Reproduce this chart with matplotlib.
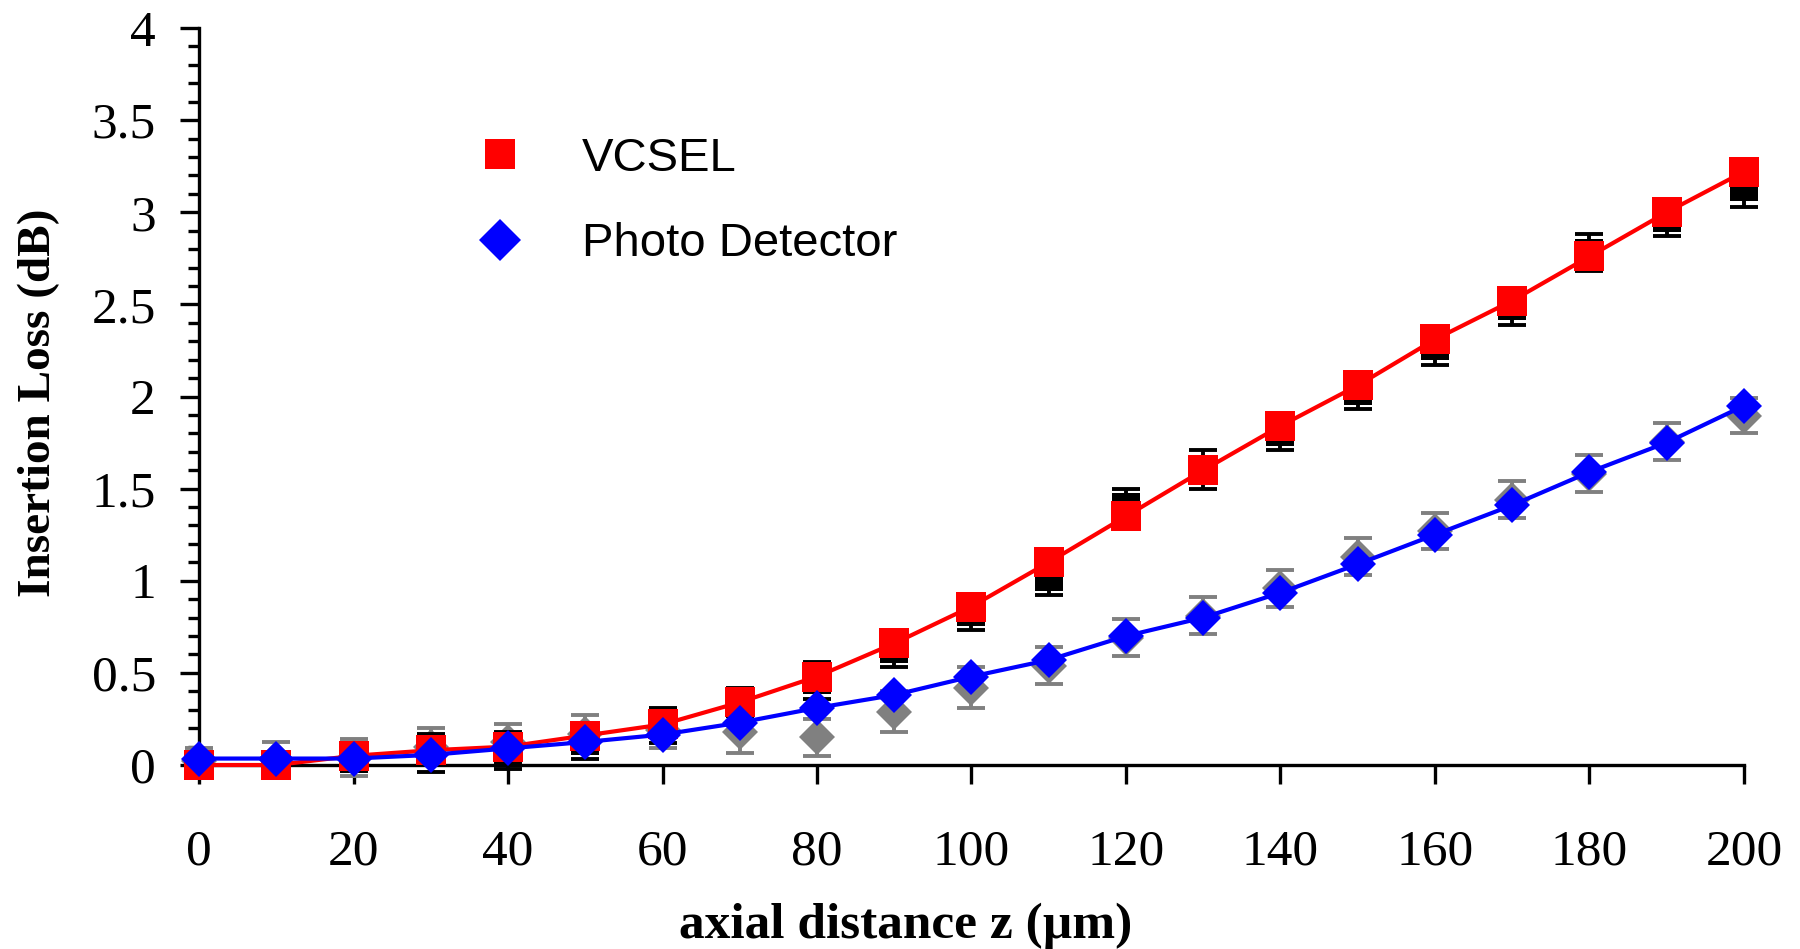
import numpy as np
import matplotlib.pyplot as plt
from matplotlib.lines import Line2D
from matplotlib.ticker import MultipleLocator, FormatStrFormatter

# axial distance z (um)
z = [0, 10, 20, 30, 40, 50, 60, 70, 80, 90, 100, 110, 120, 130, 140, 150, 160, 170, 180, 190, 200]

# model curves (red squares / blue diamonds)
vcsel_fit = [0.0, 0.0, 0.05, 0.08, 0.10, 0.16, 0.22, 0.34, 0.48, 0.66, 0.86, 1.10, 1.35,
             1.60, 1.84, 2.06, 2.31, 2.52, 2.76, 3.00, 3.22]
pd_fit = [0.035, 0.035, 0.035, 0.055, 0.09, 0.125, 0.165, 0.23, 0.31, 0.38, 0.48, 0.57, 0.70,
          0.80, 0.935, 1.09, 1.25, 1.41, 1.59, 1.75, 1.95]

# measured points with error bars (black squares / grey diamonds)
vcsel_meas = [0.0, 0.0, 0.03, 0.065, 0.08, 0.13, 0.215, 0.33, 0.46, 0.63, 0.83, 1.02, 1.40,
              1.605, 1.81, 2.03, 2.275, 2.49, 2.78, 2.97, 3.135]
vcsel_err = [0.05, 0.05, 0.05, 0.105, 0.1, 0.1, 0.095, 0.09, 0.1, 0.1, 0.1, 0.1, 0.1,
             0.105, 0.1, 0.1, 0.105, 0.1, 0.1, 0.1, 0.105]
pd_meas = [0.02, 0.03, 0.04, 0.1, 0.125, 0.17, 0.19, 0.18, 0.15, 0.29, 0.42, 0.54, 0.69,
           0.81, 0.96, 1.13, 1.27, 1.44, 1.58, 1.755, 1.895]
pd_err = [0.07, 0.095, 0.1, 0.1, 0.095, 0.1, 0.1, 0.115, 0.1, 0.11, 0.11, 0.1, 0.1,
          0.1, 0.1, 0.1, 0.1, 0.1, 0.1, 0.1, 0.095]

serif = 'Liberation Serif'
sans = 'Liberation Sans'

fig = plt.figure(figsize=(18, 9.49), dpi=100)
ax = fig.add_axes([199 / 1800, 1 - 765 / 949, (1744 - 199) / 1800, (765 - 28) / 949])

# measured data, drawn underneath
ax.errorbar(z, pd_meas, yerr=pd_err, fmt='none', ecolor='#808080',
            elinewidth=2.8, capsize=10, capthick=2.8, zorder=2, clip_on=False)
ax.plot(z, pd_meas, 'D', color='#808080', ms=18, mew=0, zorder=2, clip_on=False)
ax.errorbar(z, vcsel_meas, yerr=vcsel_err, fmt='none', ecolor='black',
            elinewidth=2.8, capsize=10, capthick=2.8, zorder=2, clip_on=False)
ax.plot(z, vcsel_meas, 's', color='black', ms=20, mew=0, zorder=2, clip_on=False)

# model curves on top
ax.plot(z, vcsel_fit, '-', color='#ff0000', lw=3, zorder=3, clip_on=False)
ax.plot(z, vcsel_fit, 's', color='#ff0000', ms=21, mew=0, zorder=3, clip_on=False)
ax.plot(z, pd_fit, '-', color='#0000ff', lw=3, zorder=4, clip_on=False)
ax.plot(z, pd_fit, 'D', color='#0000ff', ms=18, mew=0, zorder=4, clip_on=False)

ax.set_xlim(0, 200)
ax.set_ylim(0, 4)
for s in ['top', 'right']:
    ax.spines[s].set_visible(False)
for s in ['left', 'bottom']:
    ax.spines[s].set_linewidth(2.4)

ax.xaxis.set_major_locator(MultipleLocator(20))
ax.yaxis.set_major_locator(MultipleLocator(0.5))
ax.yaxis.set_minor_locator(MultipleLocator(0.1))
ax.yaxis.set_major_formatter(FormatStrFormatter('%g'))
ax.tick_params(which='major', direction='out', length=14, width=2.4, labelsize=37)
ax.tick_params(which='minor', direction='out', length=8, width=2.4)
ax.tick_params(axis='x', pad=32)
ax.tick_params(axis='y', pad=17)
for lab in ax.get_xticklabels() + ax.get_yticklabels():
    lab.set_fontfamily(serif)

fig.text(906 / 1800, 1 - 926 / 949, 'axial distance z (\u00b5m)', ha='center', va='center',
         fontsize=37, fontweight='bold', family=serif)
fig.text(39 / 1800, 1 - 403 / 949, 'Insertion Loss (dB)', ha='center', va='center',
         rotation=90, fontsize=34, fontweight='bold', family=serif)

handles = [Line2D([], [], marker='s', color='#ff0000', ls='none', ms=21, mew=0),
           Line2D([], [], marker='D', color='#0000ff', ls='none', ms=21, mew=0)]
ax.legend(handles, ['VCSEL', 'Photo Detector'], loc='upper left',
          bbox_to_anchor=(476 / 1800, 1 - 137 / 949), bbox_transform=fig.transFigure,
          frameon=False, prop={'family': sans, 'size': 34}, handlelength=1.0,
          handletextpad=1.24, borderpad=0, borderaxespad=0, labelspacing=0.87)

fig.savefig('out.png', dpi=100)
